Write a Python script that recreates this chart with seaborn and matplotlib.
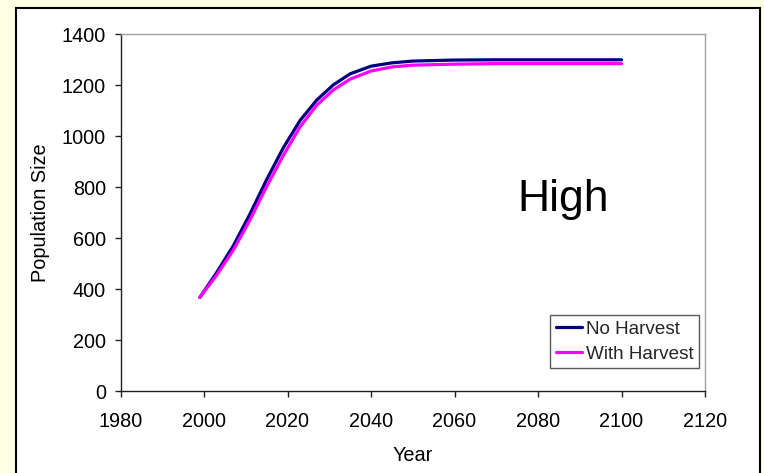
import numpy as np
import pandas as pd
import matplotlib
matplotlib.use("Agg")
import matplotlib.pyplot as plt
from matplotlib.patches import Rectangle
import seaborn as sns

# ---- data ----
years = [1999, 2003, 2007, 2011, 2015, 2019, 2023, 2027, 2031, 2035,
         2040, 2045, 2050, 2060, 2070, 2080, 2090, 2100]
no_harvest = [368, 465, 570, 695, 830, 955, 1062, 1142, 1202, 1245,
              1275, 1288, 1295, 1299, 1300, 1300, 1300, 1300]
with_harvest = [368, 455, 553, 672, 803, 925, 1037, 1122, 1182, 1224,
                1256, 1272, 1279, 1283, 1285, 1285, 1285, 1285]
series_names = ["No Harvest", "With Harvest"]
x_ticks = [1980, 2000, 2020, 2040, 2060, 2080, 2100, 2120]
y_ticks = [0, 200, 400, 600, 800, 1000, 1200, 1400]
annotation = "High"

df = pd.DataFrame({
    "Year": years * 2,
    "Population Size": no_harvest + with_harvest,
    "Series": [series_names[0]] * len(years) + [series_names[1]] * len(years),
})

sns.set_theme(style="white")
plt.rcParams["font.family"] = ["Liberation Sans", "DejaVu Sans"]

FS = 14.3
W, H = 764, 473
fig = plt.figure(figsize=(W / 100, H / 100), dpi=100)
fig.patch.set_facecolor("#FFFFE3")

# white chart area with black border
fig.patches.append(Rectangle((15.7 / W, -0.05), (760 - 15.7) / W, 1.05 - 8.3 / H,
                             transform=fig.transFigure, facecolor="white",
                             edgecolor="black", linewidth=1.5, zorder=-10))

ax = fig.add_axes([120.5 / W, 1 - 391.3 / H, (705 - 120.5) / W, (391.3 - 34.3) / H])
ax.set_zorder(5)
ax.set_facecolor("white")

sns.lineplot(data=df, x="Year", y="Population Size", hue="Series",
             palette={series_names[0]: "#000080", series_names[1]: "#FF00FF"},
             linewidth=2.3, ax=ax, legend=True)

ax.set_xlim(1980, 2120)
ax.set_ylim(0, 1400)
ax.set_xticks(x_ticks)
ax.set_yticks(y_ticks)

for s in ["left", "bottom"]:
    ax.spines[s].set_color("#202020")
    ax.spines[s].set_linewidth(1.0)
for s in ["top", "right"]:
    ax.spines[s].set_color("#A0A0A0")
    ax.spines[s].set_linewidth(1.0)

ax.tick_params(axis="x", direction="out", length=4.5, width=1, color="#202020",
               labelsize=FS, pad=10.5, labelcolor="black", bottom=True)
ax.tick_params(axis="y", direction="out", length=4.5, width=1, color="#202020",
               labelsize=FS, pad=6.0, labelcolor="black", left=True)

ax.set_xlabel("Year", fontsize=FS, labelpad=11, color="black")
ax.set_ylabel("Population Size", fontsize=FS, labelpad=8.5, color="black")

ax.text(2086, 752, annotation, fontsize=32, ha="center", va="center", color="black")

leg = ax.legend(loc="lower right", bbox_to_anchor=((699 - 120.5) / 584.5, (391.3 - 368.3) / 357),
                borderaxespad=0, frameon=True, fancybox=False, fontsize=13.6,
                handlelength=1.35, handletextpad=0.22, borderpad=0.3, labelspacing=0.4,
                title=None)
leg.get_frame().set_edgecolor("#303030")
leg.get_frame().set_linewidth(1.0)
for line in leg.get_lines():
    line.set_linewidth(2.3)

fig.savefig("out.png", dpi=100, facecolor=fig.get_facecolor())
